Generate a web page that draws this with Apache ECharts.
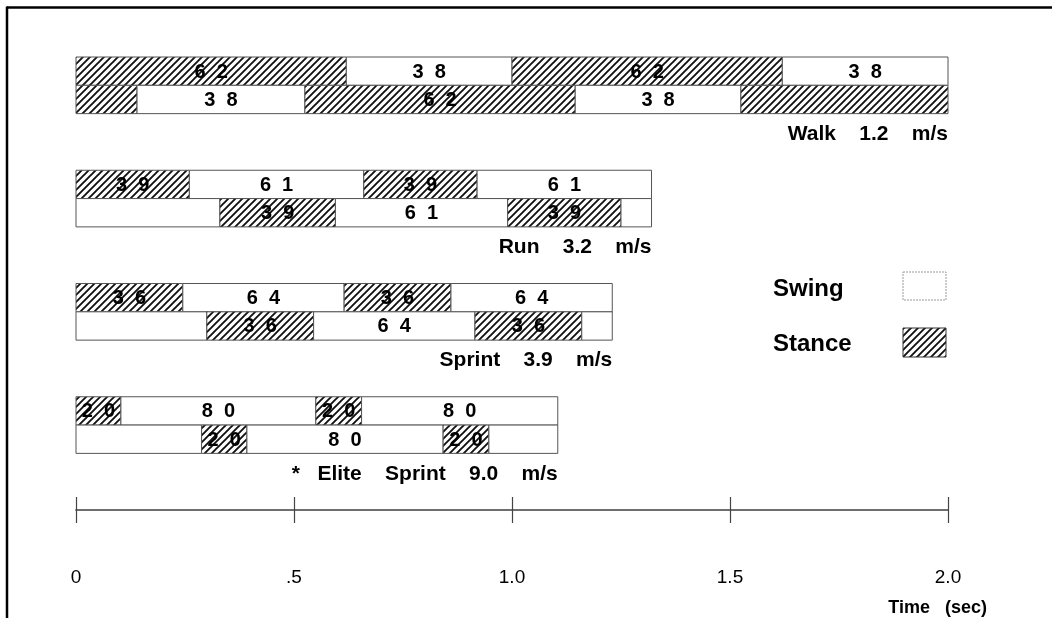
<!DOCTYPE html>
<html><head><meta charset="utf-8">
<script src="https://cdn.jsdelivr.net/npm/echarts@6/dist/echarts.min.js"></script>
<style>html,body{margin:0;padding:0;background:#fff}#c{width:1052px;height:618px}</style>
</head><body><div id="c"></div>
<script>
// ---- data ----
const gaits = ["Walk    1.2    m/s", "Run    3.2    m/s", "Sprint    3.9    m/s", "*   Elite    Sprint    9.0    m/s"];
// segments: [start(s), end(s), phase, label]
const walkLeg1 = [[0,0.62,'stance','6  2'],[0.62,1.00,'swing','3  8'],[1.00,1.62,'stance','6  2'],[1.62,2.00,'swing','3  8']];
const walkLeg2 = [[0,0.14,'stance',''],[0.14,0.525,'swing','3  8'],[0.525,1.145,'stance','6  2'],[1.145,1.525,'swing','3  8'],[1.525,2.00,'stance','']];
const runLeg1 = [[0,0.26,'stance','3  9'],[0.26,0.66,'swing','6  1'],[0.66,0.92,'stance','3  9'],[0.92,1.32,'swing','6  1']];
const runLeg2 = [[0,0.33,'swing',''],[0.33,0.595,'stance','3  9'],[0.595,0.99,'swing','6  1'],[0.99,1.25,'stance','3  9'],[1.25,1.32,'swing','']];
const sprintLeg1 = [[0,0.245,'stance','3  6'],[0.245,0.615,'swing','6  4'],[0.615,0.86,'stance','3  6'],[0.86,1.23,'swing','6  4']];
const sprintLeg2 = [[0,0.30,'swing',''],[0.30,0.545,'stance','3  6'],[0.545,0.915,'swing','6  4'],[0.915,1.16,'stance','3  6'],[1.16,1.23,'swing','']];
const eliteLeg1 = [[0,0.103,'stance','2  0'],[0.103,0.55,'swing','8  0'],[0.55,0.655,'stance','2  0'],[0.655,1.105,'swing','8  0']];
const eliteLeg2 = [[0,0.288,'swing',''],[0.288,0.392,'stance','2  0'],[0.392,0.842,'swing','8  0'],[0.842,0.947,'stance','2  0'],[0.947,1.105,'swing','']];
const tickValues = [0, 0.5, 1.0, 1.5, 2.0];
const tickLabels = ['0', '.5', '1.0', '1.5', '2.0'];
const axisTitle = 'Time   (sec)';
const legendNames = ['Swing', 'Stance'];

// ---- build ----
const legs = [[walkLeg1, walkLeg2], [runLeg1, runLeg2], [sprintLeg1, sprintLeg2], [eliteLeg1, eliteLeg2]];
const segItems = [];
legs.forEach((pair, g) => pair.forEach((leg, l) => leg.forEach(s => {
  segItems.push({ s: s[0], e: s[1], phase: s[2], label: s[3], row: g * 4 + l });
})));
const nameItems = gaits.map((n, g) => ({ name: n, end: legs[g][0][legs[g][0].length - 1][1], row: g * 4 + 2.72 }));

const hatchCanvas = document.createElement('canvas');
hatchCanvas.width = 7; hatchCanvas.height = 7;
(function () {
  const c = hatchCanvas.getContext('2d');
  c.fillStyle = '#fff'; c.fillRect(0, 0, 7, 7);
  c.strokeStyle = '#111'; c.lineWidth = 1.9;
  c.beginPath();
  c.moveTo(-1, 1); c.lineTo(1, -1);
  c.moveTo(0, 7); c.lineTo(7, 0);
  c.moveTo(6, 8); c.lineTo(8, 6);
  c.stroke();
})();
const hatch = { image: hatchCanvas, repeat: 'repeat' };
const FONT = '"Liberation Sans", Arial, Helvetica, sans-serif';

const chart = echarts.init(document.getElementById('c'), null, { renderer: 'canvas' });
chart.setOption({
  animation: false,
  backgroundColor: '#fff',
  grid: { left: 76, width: 872, top: 57, height: 453 },
  xAxis: [{
    type: 'value', min: 0, max: 2, interval: 0.5, position: 'bottom',
    axisLine: { onZero: false, lineStyle: { color: '#666', width: 1.5 } },
    axisTick: { inside: false, length: 13, lineStyle: { color: '#444', width: 1.2 } },
    splitLine: { show: false },
    axisLabel: { margin: 58, fontSize: 19, color: '#000', fontFamily: FONT,
      formatter: v => { const i = tickValues.indexOf(v); return i >= 0 ? tickLabels[i] : ''; } }
  }, {
    type: 'value', min: 0, max: 2, interval: 0.5, position: 'bottom', offset: 0,
    axisLine: { onZero: false, lineStyle: { color: '#666', width: 1.5 } },
    axisTick: { inside: true, length: 13, lineStyle: { color: '#444', width: 1.2 } },
    splitLine: { show: false }, axisLabel: { show: false }
  }],
  yAxis: { type: 'value', min: 0, max: 16, inverse: true, show: false },
  series: [{
    type: 'custom', xAxisIndex: 0, yAxisIndex: 0,
    data: segItems.map(d => [d.s, d.e, d.row]),
    encode: { x: [0, 1], y: 2 },
    renderItem: (params, api) => {
      const it = segItems[params.dataIndex];
      const p0 = api.coord([it.s, it.row]);
      const p1 = api.coord([it.e, it.row + 1]);
      const x = p0[0], y = Math.min(p0[1], p1[1]);
      const w = p1[0] - p0[0], h = Math.abs(p1[1] - p0[1]);
      const children = [{ type: 'rect', shape: { x, y, width: w, height: h },
        style: { fill: it.phase === 'stance' ? hatch : '#fff', stroke: '#555', lineWidth: 1 } }];
      if (it.label) children.push({ type: 'text', z2: 10, style: { text: it.label, x: x + w / 2, y: y + h / 2 + 1,
        align: 'center', verticalAlign: 'middle', fontSize: 20, fontWeight: 'bold', fontFamily: FONT, fill: '#000' } });
      return { type: 'group', children };
    }
  }, {
    type: 'custom', xAxisIndex: 0, yAxisIndex: 0,
    data: nameItems.map(d => [d.end, d.row]),
    renderItem: (params, api) => {
      const it = nameItems[params.dataIndex];
      const p = api.coord([it.end, it.row]);
      return { type: 'text', style: { text: it.name, x: p[0], y: p[1], align: 'right', verticalAlign: 'middle',
        fontSize: 21, fontWeight: 'bold', fontFamily: FONT, fill: '#000' } };
    }
  }],
  graphic: [
    { type: 'line', shape: { x1: 7, y1: 7.5, x2: 1052, y2: 7.5 }, style: { stroke: '#000', lineWidth: 2.5 } },
    { type: 'line', shape: { x1: 7, y1: 6.5, x2: 7, y2: 618 }, style: { stroke: '#000', lineWidth: 2.5 } },
    { type: 'text', style: { text: legendNames[0], x: 773, y: 289, verticalAlign: 'middle', fontSize: 24, fontWeight: 'bold', fontFamily: FONT, fill: '#000' } },
    { type: 'text', style: { text: legendNames[1], x: 773, y: 344, verticalAlign: 'middle', fontSize: 24, fontWeight: 'bold', fontFamily: FONT, fill: '#000' } },
    { type: 'rect', shape: { x: 903, y: 272, width: 43, height: 28 }, style: { fill: '#fff', stroke: '#999', lineWidth: 1, lineDash: [2, 1] } },
    { type: 'rect', shape: { x: 903, y: 328, width: 43, height: 29 }, style: { fill: hatch, stroke: '#333', lineWidth: 1 } },
    { type: 'text', style: { text: axisTitle, x: 987, y: 608, align: 'right', verticalAlign: 'middle', fontSize: 18, fontWeight: 'bold', fontFamily: FONT, fill: '#000' } }
  ]
});
</script>
</body></html>
